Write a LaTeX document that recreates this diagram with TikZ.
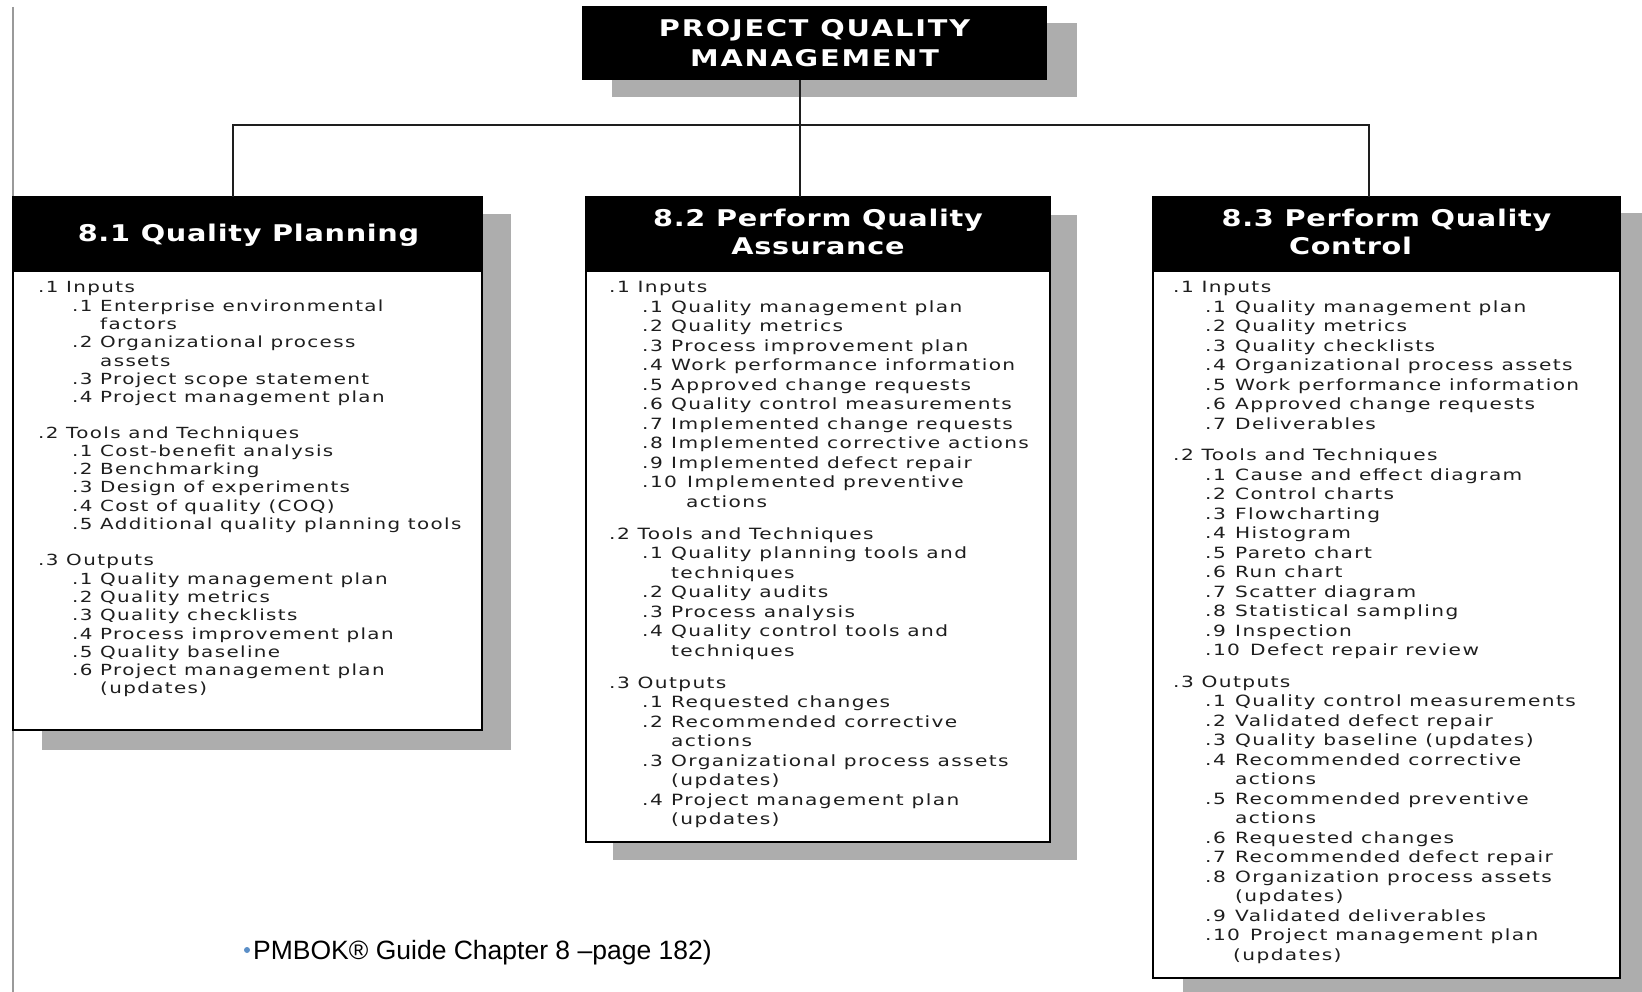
\documentclass[tikz,border=0pt]{standalone}
\usepackage{fontspec}
\usetikzlibrary{backgrounds}
\newfontfamily\bodyfont[FakeStretch=1.3,LetterSpace=9]{DejaVu Sans}
\newfontfamily\headfont[FakeStretch=1.25,LetterSpace=3]{DejaVu Sans}
\newfontfamily\titlefont[FakeStretch=1.25,LetterSpace=8]{DejaVu Sans}
\newfontfamily\footfont{Liberation Sans}
\definecolor{shadowgray}{HTML}{ADADAD}
\definecolor{ink}{HTML}{1E1E1E}
\definecolor{bulletblue}{HTML}{5B8FC7}
\definecolor{edgegray}{HTML}{9A9A9A}
\newlength\numind \newlength\numw \newlength\contind
\newcommand\LB[2]{\hspace*{\numind}\makebox[\numw][l]{#1}#2}
\newcommand\LW[2]{\hspace*{\numind}\makebox[45pt][l]{#1}#2}
\newcommand\LC[1]{\hspace*{\contind}#1}
\begin{document}
\begin{tikzpicture}[x=1pt,y=-1pt,
  panel/.style={draw=black, line width=2.2pt, fill=white, rectangle, inner sep=0pt, outer sep=0pt},
  titlebox/.style={fill=black, rectangle, inner sep=0pt, outer sep=0pt},
  shade/.style={fill=shadowgray},
  conn/.style={draw=ink, line width=2pt},
  bodytxt/.style={anchor=base west, inner sep=0pt, text=ink},
  headtxt/.style={anchor=base, inner sep=0pt, text=white}]
\useasboundingbox (0,0) rectangle (1642,992);

% title
\node[titlebox, minimum width=465pt, minimum height=74pt] (title) at (814.5,43) {};
\node[headtxt] (titleT) at (814.5,36.5) {\parbox[t]{460pt}{\centering\titlefont\bfseries\fontsize{23}{30}\selectfont PROJECT QUALITY\\MANAGEMENT}};

% panels
\node[panel, minimum width=469pt, minimum height=533pt] (qp) at (247.5,463.5) {};
\node[panel, minimum width=464pt, minimum height=645pt] (qa) at (818,519.5) {};
\node[panel, minimum width=467pt, minimum height=781pt] (qc) at (1386.5,587.5) {};

\begin{pgfonlayer}{background}
\fill[white] (0,0) rectangle (1642,992);
\draw[line width=2.2pt, edgegray] (13,7) -- (13,992);
\fill[shade] ([shift={(30,17)}]title.north west) rectangle ([shift={(30,17)}]title.south east);
\fill[shade] ([shift={(29,17)}]qp.north west) rectangle ([shift={(29,20)}]qp.south east);
\fill[shade] ([shift={(27,18)}]qa.north west) rectangle ([shift={(27,18)}]qa.south east);
\fill[shade] ([shift={(30,16)}]qc.north west) rectangle ([shift={(30,16)}]qc.south east);
\end{pgfonlayer}

\fill[black] (qp.north west) rectangle ([yshift=-75pt]qp.north east);
\fill[black] (qa.north west) rectangle ([yshift=-75pt]qa.north east);
\fill[black] (qc.north west) rectangle ([yshift=-75pt]qc.north east);

% connectors
\coordinate (titleOut) at (800,80);
\coordinate (dropM) at (800,197);
\coordinate (dropL) at (233,197);
\coordinate (dropR) at (1369,197);
\coordinate (cornerL) at (233,125);
\coordinate (cornerR) at (1369,125);
\draw[conn] (titleOut) -- (dropM);
\draw[conn] (dropL) -- (cornerL) -- (cornerR) -- (dropR);

% headers
\node[headtxt] (qpH) at (248.5,241.5) {\headfont\bfseries\fontsize{23}{28}\selectfont 8.1 Quality Planning};
\node[headtxt] (qaH) at (818,227) {\parbox[t]{440pt}{\centering\headfont\bfseries\fontsize{23}{28}\selectfont 8.2 Perform Quality\\Assurance}};
\node[headtxt] (qcH) at (1386.5,227) {\parbox[t]{440pt}{\centering\headfont\bfseries\fontsize{23}{28}\selectfont 8.3 Perform Quality\\Control\hspace*{72pt}\null}};

% bodies
\node[bodytxt] (qpT) at (38,293) {\parbox[t]{440pt}{\bodyfont\fontsize{15.3}{18.3}\selectfont
\setlength\numind{34pt}\setlength\numw{28pt}\setlength\contind{62pt}%
.1 Inputs\\
\LB{.1}{Enterprise environmental}\\
\LC{factors}\\
\LB{.2}{Organizational process}\\
\LC{assets}\\
\LB{.3}{Project scope statement}\\
\LB{.4}{Project management plan}\\[17pt]
.2 Tools and Techniques\\
\LB{.1}{Cost-benefit analysis}\\
\LB{.2}{Benchmarking}\\
\LB{.3}{Design of experiments}\\
\LB{.4}{Cost of quality (COQ)}\\
\LB{.5}{Additional quality planning tools}\\[18pt]
.3 Outputs\\
\LB{.1}{Quality management plan}\\
\LB{.2}{Quality metrics}\\
\LB{.3}{Quality checklists}\\
\LB{.4}{Process improvement plan}\\
\LB{.5}{Quality baseline}\\
\LB{.6}{Project management plan}\\
\LC{(updates)}}};

\node[bodytxt] (qaT) at (609,293) {\parbox[t]{440pt}{\bodyfont\fontsize{15.5}{19.5}\selectfont
\setlength\numind{33pt}\setlength\numw{29pt}\setlength\contind{62pt}%
.1 Inputs\\
\LB{.1}{Quality management plan}\\
\LB{.2}{Quality metrics}\\
\LB{.3}{Process improvement plan}\\
\LB{.4}{Work performance information}\\
\LB{.5}{Approved change requests}\\
\LB{.6}{Quality control measurements}\\
\LB{.7}{Implemented change requests}\\
\LB{.8}{Implemented corrective actions}\\
\LB{.9}{Implemented defect repair}\\
\LW{.10}{Implemented preventive}\\
\hspace*{77pt}actions\\[12.5pt]
.2 Tools and Techniques\\
\LB{.1}{Quality planning tools and}\\
\LC{techniques}\\
\LB{.2}{Quality audits}\\
\LB{.3}{Process analysis}\\
\LB{.4}{Quality control tools and}\\
\LC{techniques}\\[12.5pt]
.3 Outputs\\
\LB{.1}{Requested changes}\\
\LB{.2}{Recommended corrective}\\
\LC{actions}\\
\LB{.3}{Organizational process assets}\\
\LC{(updates)}\\
\LB{.4}{Project management plan}\\
\LC{(updates)}}};

\node[bodytxt] (qcT) at (1173,293) {\parbox[t]{440pt}{\bodyfont\fontsize{15.5}{19.5}\selectfont
\setlength\numind{32pt}\setlength\numw{30pt}\setlength\contind{62pt}%
.1 Inputs\\
\LB{.1}{Quality management plan}\\
\LB{.2}{Quality metrics}\\
\LB{.3}{Quality checklists}\\
\LB{.4}{Organizational process assets}\\
\LB{.5}{Work performance information}\\
\LB{.6}{Approved change requests}\\
\LB{.7}{Deliverables}\\[12pt]
.2 Tools and Techniques\\
\LB{.1}{Cause and effect diagram}\\
\LB{.2}{Control charts}\\
\LB{.3}{Flowcharting}\\
\LB{.4}{Histogram}\\
\LB{.5}{Pareto chart}\\
\LB{.6}{Run chart}\\
\LB{.7}{Scatter diagram}\\
\LB{.8}{Statistical sampling}\\
\LB{.9}{Inspection}\\
\LW{.10}{Defect repair review}\\[12pt]
.3 Outputs\\
\LB{.1}{Quality control measurements}\\
\LB{.2}{Validated defect repair}\\
\LB{.3}{Quality baseline (updates)}\\
\LB{.4}{Recommended corrective}\\
\LC{actions}\\
\LB{.5}{Recommended preventive}\\
\LC{actions}\\
\LB{.6}{Requested changes}\\
\LB{.7}{Recommended defect repair}\\
\LB{.8}{Organization process assets}\\
\LC{(updates)}\\
\LB{.9}{Validated deliverables}\\
\LW{.10}{Project management plan}\\
\hspace*{60pt}(updates)}};

% footer
\node[circle, fill=bulletblue, minimum size=6pt, inner sep=0pt] (bul) at (247,950) {};
\node[anchor=base west, inner sep=0pt] (src) at (253,959) {\footfont\fontsize{26.5}{30}\selectfont PMBOK® Guide Chapter 8 –page 182)};
\end{tikzpicture}
\end{document}
